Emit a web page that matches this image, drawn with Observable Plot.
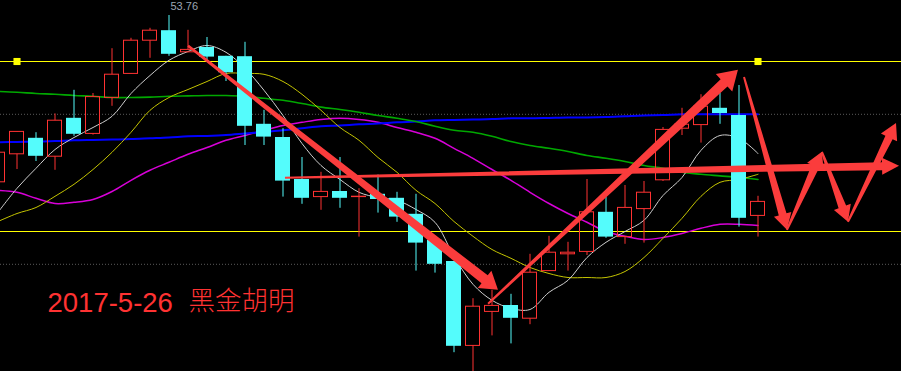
<!DOCTYPE html>
<html>
<head>
<meta charset="utf-8">
<script src="https://cdn.jsdelivr.net/npm/d3@7"></script>
<script src="https://cdn.jsdelivr.net/npm/@observablehq/plot@0.6"></script>
<style>
html, body { margin: 0; padding: 0; background: #000; }
#chart { width: 901px; height: 371px; overflow: hidden; background: #000; }
#chart svg { display: block; }
</style>
</head>
<body>
<div id="chart"></div>
<script>
// ---- Candles (daily OHLC, oldest to newest) ----
const open  = [49.59, 50.29, 50.69, 50.23, 51.19, 50.80, 51.70, 52.30, 53.13, 53.38, 52.84, 52.96, 52.74, 52.73, 51.04, 50.71, 49.66, 49.22, 49.36, 49.22, 49.29, 49.19, 48.79, 48.14, 47.61, 45.50, 46.35, 46.51, 46.18, 47.37, 47.79, 47.85, 48.84, 48.22, 48.92, 49.64, 50.93, 51.02, 51.44, 51.26, 48.75];
const high  = [50.39, 50.86, 50.83, 51.30, 51.89, 51.81, 52.93, 53.19, 53.44, 53.76, 53.39, 53.21, 52.74, 53.09, 51.39, 50.93, 50.21, 49.84, 50.21, 49.43, 49.77, 49.34, 49.29, 48.14, 47.61, 46.68, 46.89, 46.79, 47.79, 48.24, 48.09, 49.66, 49.22, 49.51, 49.61, 50.96, 51.44, 51.78, 51.82, 52.01, 49.24];
const low   = [49.54, 49.91, 50.11, 49.89, 50.74, 50.77, 51.49, 52.29, 52.69, 52.74, 52.83, 52.61, 52.11, 50.51, 50.51, 49.22, 49.04, 48.89, 48.94, 48.22, 48.82, 48.59, 47.37, 47.32, 45.33, 44.83, 45.75, 45.55, 46.03, 47.36, 47.37, 47.76, 48.19, 48.04, 48.07, 49.61, 50.76, 50.57, 51.04, 48.47, 48.22];
const close = [50.33, 50.85, 50.24, 51.13, 50.79, 51.72, 52.28, 53.13, 53.38, 52.79, 52.90, 52.72, 52.33, 50.99, 50.72, 49.62, 49.19, 49.35, 49.19, 49.23, 49.16, 48.72, 48.07, 47.54, 45.49, 46.48, 46.50, 46.19, 47.33, 47.83, 47.83, 48.84, 48.22, 48.95, 49.33, 50.90, 51.03, 51.48, 51.31, 48.69, 49.10];

// ---- Moving averages ----
const maWhite   = [48.84, 49.44, 49.94, 50.41, 50.71, 50.96, 51.24, 51.81, 52.26, 52.64, 52.86, 53.01, 52.84, 52.44, 51.89, 51.26, 50.56, 50.01, 49.66, 49.34, 49.21, 49.14, 48.91, 48.59, 47.74, 47.04, 46.64, 46.44, 46.41, 46.84, 47.14, 47.71, 48.09, 48.36, 48.64, 49.26, 49.71, 50.39, 50.76, 50.69, 50.31];
const maYellow  = [48.61, 48.81, 48.96, 49.24, 49.54, 49.91, 50.34, 50.84, 51.39, 51.71, 51.91, 52.11, 52.31, 52.31, 52.29, 52.11, 51.79, 51.39, 50.96, 50.64, 50.21, 49.84, 49.39, 49.06, 48.61, 48.24, 47.91, 47.69, 47.46, 47.31, 47.21, 47.21, 47.21, 47.36, 47.71, 48.19, 48.69, 49.24, 49.59, 49.66, 49.79];
const maMagenta = [49.39, 49.34, 49.19, 49.06, 49.09, 49.16, 49.36, 49.64, 49.89, 50.09, 50.29, 50.46, 50.64, 50.76, 50.89, 51.01, 51.09, 51.16, 51.19, 51.16, 51.09, 50.96, 50.84, 50.69, 50.44, 50.19, 49.91, 49.64, 49.34, 49.06, 48.81, 48.59, 48.36, 48.24, 48.16, 48.21, 48.31, 48.44, 48.54, 48.54, 48.51];
const maGreen   = [51.86, 51.84, 51.81, 51.79, 51.76, 51.74, 51.71, 51.71, 51.72, 51.74, 51.75, 51.76, 51.76, 51.74, 51.69, 51.64, 51.56, 51.47, 51.41, 51.34, 51.26, 51.19, 51.11, 50.99, 50.89, 50.84, 50.74, 50.61, 50.51, 50.44, 50.36, 50.26, 50.19, 50.11, 50.01, 49.94, 49.84, 49.79, 49.75, 49.71, 49.66];
const maBlue    = [50.59, 50.60, 50.61, 50.62, 50.64, 50.65, 50.66, 50.67, 50.69, 50.71, 50.74, 50.75, 50.77, 50.81, 50.85, 50.89, 50.94, 50.99, 51.01, 51.04, 51.06, 51.09, 51.11, 51.14, 51.15, 51.16, 51.17, 51.19, 51.19, 51.20, 51.21, 51.21, 51.22, 51.24, 51.26, 51.27, 51.29, 51.29, 51.29, 51.29, 51.29];

// ---- Reference levels ----
const levelLines  = [52.61, 48.36];          // solid horizontal lines
const dottedLines = [51.29, 47.54];          // dotted guide lines
const levelAnchors = [[1, 52.61], [40, 52.61]]; // square handles on the upper line
const peakIndex = 9;                          // bar carrying the "53.76" label

// ---- Texts ----
const dateLabel = "2017-5-26";
const authorLabel = "黑金胡明";

// ---- Hand-drawn arrows (bar index, price) ----
const arrowDown = [[10.03, 52.99], [26.34, 46.89]];
const arrowUp   = [[25.82, 46.54], [38.97, 52.39]];
const arrowFlat = [[15.13, 49.69], [47.45, 49.99]];
const zigzag    = [[39.29, 52.21], [41.55, 48.39], [43.39, 50.34], [44.76, 48.59], [47.29, 51.06]];

// ---------------------------------------------------------------
const W = 901, H = 371;
const STEP = 19, X0 = -2.5;       // pixel layout of bar slots
const RED = "#ff3232", CYAN = "#54fcfc", ARROW = "#fb3c3c";

const bars = open.map((o, i) => ({
  i, open: o, high: high[i], low: low[i], close: close[i],
  up: close[i] >= o,
  top: Math.max(o, close[i]), bottom: Math.min(o, close[i])
}));
const upBars = bars.filter(d => d.up);
const downBars = bars.filter(d => !d.up);

const redHalf = 7 / STEP, cyanHalf = 7.5 / STEP;

function arrowPoly(x0, y0, x1, y1, w0, w1, hl, hw) {
  const dx = x1 - x0, dy = y1 - y0, L = Math.hypot(dx, dy);
  const ux = dx / L, uy = dy / L, nx = -uy, ny = ux;
  const bx = x1 - ux * hl, by = y1 - uy * hl;
  return [
    [x0 + nx * w0 / 2, y0 + ny * w0 / 2],
    [bx + nx * w1 / 2, by + ny * w1 / 2],
    [bx + nx * hw, by + ny * hw],
    [x1, y1],
    [bx - nx * hw, by - ny * hw],
    [bx - nx * w1 / 2, by - ny * w1 / 2],
    [x0 - nx * w0 / 2, y0 - ny * w0 / 2]
  ];
}

const arrowSpecs = [
  {a: arrowDown[0], b: arrowDown[1], w0: 2.5, w1: 10, hl: 17, hw: 11},
  {a: arrowUp[0],   b: arrowUp[1],   w0: 2,   w1: 10, hl: 19, hw: 12},
  {a: arrowFlat[0], b: arrowFlat[1], w0: 2,   w1: 8,  hl: 17, hw: 8.5},
  ...zigzag.slice(1).map((p, k) => ({a: zigzag[k], b: p, w0: 2, w1: 8, hl: 16, hw: 9}))
];

function arrowsMark(index, scales) {
  const g = d3.create("svg:g");
  for (const s of arrowSpecs) {
    const poly = arrowPoly(scales.x(s.a[0]), scales.y(s.a[1]), scales.x(s.b[0]), scales.y(s.b[1]), s.w0, s.w1, s.hl, s.hw);
    g.append("path")
      .attr("d", "M" + poly.map(p => p[0].toFixed(2) + "," + p[1].toFixed(2)).join("L") + "Z")
      .attr("fill", ARROW);
  }
  return g.node();
}

const maSpecs = [
  {data: maMagenta, stroke: "#d800d8", w: 1.5},
  {data: maBlue,    stroke: "#0000ff", w: 2},
  {data: maGreen,   stroke: "#00a800", w: 1.6},
  {data: maYellow,  stroke: "#c4c400", w: 1},
  {data: maWhite,   stroke: "#cfcfcf", w: 1}
];

const chart = Plot.plot({
  width: W, height: H,
  margin: 0,
  style: {background: "#000", overflow: "hidden"},
  x: {domain: [(0 - X0) / STEP, (W - X0) / STEP], axis: null},
  y: {domain: [54.135 - H / 40, 54.135], axis: null},
  marks: [
    Plot.ruleY(dottedLines, {stroke: "#5a5a5a", strokeWidth: 1, strokeDasharray: "1,2"}),
    Plot.ruleY(levelLines, {stroke: "#ffff00", strokeWidth: 1}),
    ...maSpecs.map(s => Plot.line(s.data, {x: (d, i) => i, y: d => d, stroke: s.stroke, strokeWidth: s.w, curve: "catmull-rom"})),
    // wicks
    Plot.ruleX(downBars, {x: "i", y1: "low", y2: "high", stroke: CYAN, strokeWidth: 1}),
    Plot.ruleX(upBars, {x: "i", y1: "high", y2: "top", stroke: RED, strokeWidth: 1}),
    Plot.ruleX(upBars, {x: "i", y1: "bottom", y2: "low", stroke: RED, strokeWidth: 1}),
    // bodies
    Plot.rect(downBars, {x1: d => d.i - cyanHalf, x2: d => d.i + cyanHalf, y1: "top", y2: "bottom", fill: CYAN}),
    Plot.rect(upBars, {x1: d => d.i - redHalf, x2: d => d.i + redHalf, y1: "bottom", y2: "top", fill: "none", stroke: RED, strokeWidth: 1}),
    // square handles
    Plot.dot(levelAnchors, {x: d => d[0], y: d => d[1], symbol: "square", r: 4, fill: "#ffff00", stroke: "none"}),
    // peak label
    Plot.text([bars[peakIndex]], {x: "i", y: "high", text: d => d.high.toFixed(2), textAnchor: "start", lineAnchor: "bottom", dx: 1.5, dy: -6, fill: "#9ca6b2", fontSize: 11, fontFamily: "Liberation Sans, Arial, sans-serif"}),
    // arrows
    arrowsMark,
    // caption texts
    Plot.text([dateLabel], {frameAnchor: "top-left", text: d => d, dx: 47, dy: 311, textAnchor: "start", lineAnchor: "bottom", fill: RED, fontSize: 27.5, fontFamily: "Liberation Sans, Arial, sans-serif"}),
    Plot.text([authorLabel], {frameAnchor: "top-left", text: d => d, dx: 188, dy: 309, textAnchor: "start", lineAnchor: "bottom", fill: RED, fontSize: 26.5, fontWeight: 300, fontFamily: "Noto Sans CJK SC, sans-serif"})
  ]
});
document.getElementById("chart").append(chart);
</script>
</body>
</html>
